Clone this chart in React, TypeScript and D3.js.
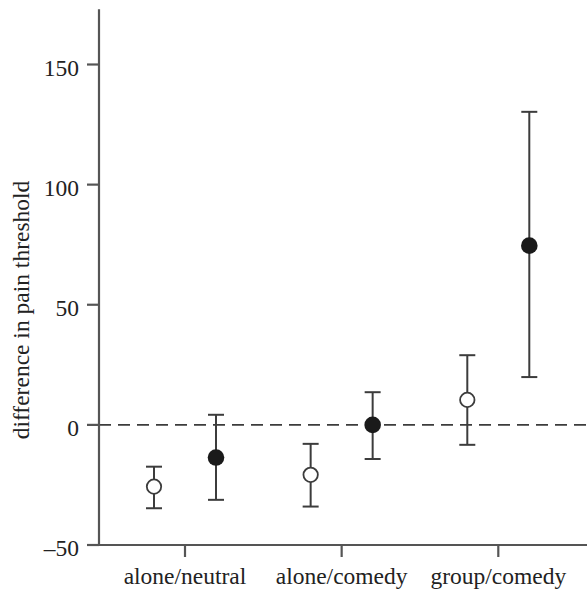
import React from 'react';
import * as d3 from 'd3';

const categories = ['alone/neutral', 'alone/comedy', 'group/comedy'];

// open markers (left of each tick)
const openMean = [-25.7, -20.8, 10.4];
const openLow = [-34.7, -34, -8.3];
const openHigh = [-17.4, -7.9, 29];

// filled markers (right of each tick)
const filledMean = [-13.6, 0, 74.6];
const filledLow = [-31.2, -14.2, 19.9];
const filledHigh = [4.2, 13.6, 130.3];

const yTicks = [-50, 0, 50, 100, 150];

const width = 587;
const height = 593;
const margin = { left: 99, bottom: 545 };

const App: React.FC = () => {
  const x = d3.scalePoint<string>().domain(categories).range([185, 498.3]);
  const y = d3.scaleLinear().domain([-50, 150]).range([545, 64.5]);
  const yTop = y(173);
  const offset = 31;
  const cap = 8;
  const ink = '#3c3c3c';
  const axisColor = '#555';
  const textStyle = { fontFamily: 'Liberation Serif, Tinos, serif', fontSize: 23.5 };

  const fmt = (d: number) => (d < 0 ? '\u2013' + Math.abs(d) : String(d));

  const bars = (means: number[], lows: number[], highs: number[], dx: number, filled: boolean) =>
    categories.map((c, i) => {
      const cx = (x(c) as number) + dx;
      return (
        <g key={c + dx}>
          <line x1={cx} x2={cx} y1={y(lows[i])} y2={y(highs[i])} stroke={ink} strokeWidth={2} />
          <line x1={cx - cap} x2={cx + cap} y1={y(lows[i])} y2={y(lows[i])} stroke={ink} strokeWidth={2} />
          <line x1={cx - cap} x2={cx + cap} y1={y(highs[i])} y2={y(highs[i])} stroke={ink} strokeWidth={2} />
          {filled ? (
            <circle cx={cx} cy={y(means[i])} r={8.3} fill="#1a1a1a" />
          ) : (
            <circle cx={cx} cy={y(means[i])} r={7.2} fill="#fff" stroke={ink} strokeWidth={1.8} />
          )}
        </g>
      );
    });

  return (
    <svg width={width} height={height} style={{ position: 'absolute', left: 0, top: 0, background: '#fff' }}>
      {/* zero line */}
      <line x1={margin.left} x2={width} y1={y(0)} y2={y(0)} stroke={ink} strokeWidth={1.8} strokeDasharray="12,7" />

      {/* Y axis */}
      <line x1={margin.left} x2={margin.left} y1={yTop} y2={margin.bottom} stroke={axisColor} strokeWidth={2.2} />
      {yTicks.map(t => (
        <g key={t}>
          <line x1={margin.left - 12} x2={margin.left} y1={y(t)} y2={y(t)} stroke={axisColor} strokeWidth={2.2} />
          <text x={79} y={y(t) + 11} textAnchor="end" style={textStyle} fill="#222">
            {fmt(t)}
          </text>
        </g>
      ))}

      {/* X axis */}
      <line x1={margin.left} x2={width} y1={margin.bottom} y2={margin.bottom} stroke={axisColor} strokeWidth={2.2} />
      {categories.map(c => (
        <g key={c}>
          <line x1={x(c)} x2={x(c)} y1={margin.bottom} y2={margin.bottom + 12} stroke={axisColor} strokeWidth={2.2} />
          <text x={x(c)} y={584} textAnchor="middle" style={textStyle} fill="#222">
            {c}
          </text>
        </g>
      ))}

      {/* Y axis label */}
      <text transform="translate(29,310) rotate(-90)" textAnchor="middle" style={textStyle} fill="#222">
        difference in pain threshold
      </text>

      {bars(openMean, openLow, openHigh, -offset, false)}
      {bars(filledMean, filledLow, filledHigh, offset, true)}
    </svg>
  );
};

export default App;
